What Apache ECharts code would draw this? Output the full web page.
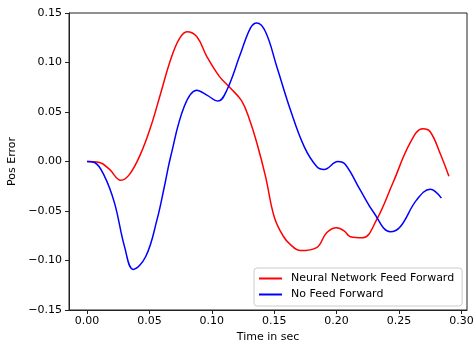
<!DOCTYPE html>
<html>
<head>
<meta charset="utf-8">
<script src="https://cdn.jsdelivr.net/npm/echarts@6/dist/echarts.min.js"></script>
<style>html,body{margin:0;padding:0;background:#fff}#c{width:473px;height:343px}</style>
</head>
<body>
<div id="c"></div>
<script>
var seriesNames = ['Neural Network Feed Forward', 'No Feed Forward'];
var nnTime = [0.000, 0.010, 0.018, 0.027, 0.034, 0.043, 0.051, 0.059, 0.067, 0.074, 0.080, 0.088, 0.096, 0.106, 0.115, 0.124, 0.130, 0.136, 0.143, 0.150, 0.157, 0.163, 0.171, 0.184, 0.192, 0.200, 0.206, 0.211, 0.221, 0.232, 0.245, 0.259, 0.269, 0.275, 0.283, 0.290];
var nnErr  = [0.000, -0.001, -0.008, -0.019, -0.013, 0.008, 0.035, 0.069, 0.103, 0.124, 0.131, 0.126, 0.106, 0.086, 0.074, 0.061, 0.043, 0.019, -0.015, -0.056, -0.075, -0.084, -0.090, -0.087, -0.072, -0.067, -0.070, -0.076, -0.077, -0.059, -0.022, 0.019, 0.033, 0.030, 0.008, -0.015];
var ffTime = [0.000, 0.006, 0.014, 0.022, 0.030, 0.037, 0.047, 0.056, 0.062, 0.067, 0.078, 0.088, 0.096, 0.105, 0.112, 0.123, 0.131, 0.136, 0.143, 0.152, 0.163, 0.174, 0.184, 0.190, 0.201, 0.207, 0.219, 0.230, 0.243, 0.251, 0.264, 0.275, 0.284];
var ffErr  = [0.000, -0.001, -0.015, -0.042, -0.086, -0.109, -0.096, -0.059, -0.025, 0.005, 0.056, 0.072, 0.067, 0.061, 0.072, 0.109, 0.135, 0.140, 0.131, 0.096, 0.052, 0.015, -0.005, -0.008, 0.000, -0.003, -0.029, -0.052, -0.071, -0.066, -0.039, -0.028, -0.037];
var xTicks = [0.00, 0.05, 0.10, 0.15, 0.20, 0.25, 0.30];
var yTicks = [-0.15, -0.10, -0.05, 0.00, 0.05, 0.10, 0.15];
var xLabel = 'Time in sec';
var yLabel = 'Pos Error';

function pairs(xs, ys) { return xs.map(function (x, i) { return [x, ys[i]]; }); }
function fmt(v) { var s = Math.abs(v).toFixed(2); return (v < -1e-9 ? '\u2212' : '') + s; }

var font = 'DejaVu Sans';
var chart = echarts.init(document.getElementById('c'), null, { renderer: 'canvas' });
chart.setOption({
  animation: false,
  backgroundColor: '#fff',
  grid: { left: 69, top: 13, right: 6, bottom: 33, containLabel: false, outerBoundsMode: 'none', show: true, borderColor: '#222', borderWidth: 1, backgroundColor: 'transparent' },
  xAxis: {
    type: 'value', min: -0.0145, max: 0.3045,
    name: xLabel, nameLocation: 'middle', nameGap: 21,
    nameTextStyle: { fontFamily: font, fontSize: 11, color: '#000' },
    axisLine: { show: true, onZero: false, lineStyle: { color: '#222', width: 1 } },
    axisTick: { show: true, inside: false, length: 4, customValues: xTicks, lineStyle: { color: '#222' } },
    axisLabel: { customValues: xTicks, formatter: fmt, margin: 6, fontFamily: font, fontSize: 11, color: '#000' },
    splitLine: { show: false }
  },
  yAxis: {
    type: 'value', min: -0.15, max: 0.15,
    name: yLabel, nameLocation: 'middle', nameGap: 46,
    nameTextStyle: { fontFamily: font, fontSize: 11, color: '#000' },
    axisLine: { show: true, onZero: false, lineStyle: { color: '#222', width: 1 } },
    axisTick: { show: true, inside: false, length: 4, customValues: yTicks, lineStyle: { color: '#222' } },
    axisLabel: { customValues: yTicks, formatter: fmt, margin: 7, fontFamily: font, fontSize: 11, color: '#000' },
    splitLine: { show: false }
  },
  legend: {
    left: 254, top: 268, orient: 'vertical',
    padding: [5, 8, 6, 5], itemGap: 5,
    itemWidth: 23, itemHeight: 2, icon: 'rect',
    borderColor: '#ccc', borderWidth: 1, borderRadius: 3, backgroundColor: 'rgba(255,255,255,0.8)',
    textStyle: { fontFamily: font, fontSize: 11, color: '#000', padding: [0, 0, 0, 4] },
    data: seriesNames
  },
  series: [
    { name: seriesNames[0], type: 'line', data: pairs(nnTime, nnErr), smooth: 0.4, symbol: 'none', lineStyle: { color: '#ff0000', width: 1.5 }, itemStyle: { color: '#ff0000' } },
    { name: seriesNames[1], type: 'line', data: pairs(ffTime, ffErr), smooth: 0.4, symbol: 'none', lineStyle: { color: '#0000ff', width: 1.5 }, itemStyle: { color: '#0000ff' } }
  ]
});
</script>
</body>
</html>
